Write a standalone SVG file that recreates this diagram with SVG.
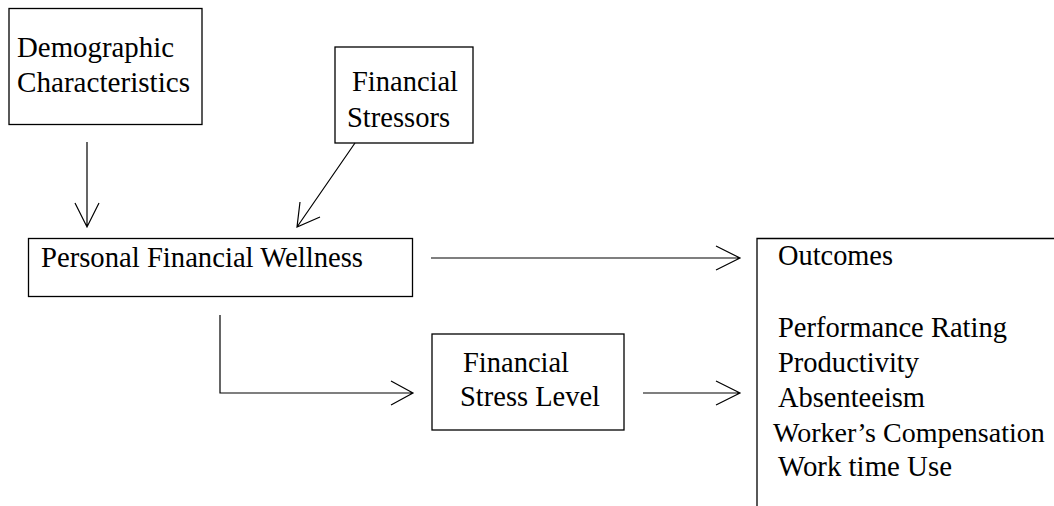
<svg xmlns="http://www.w3.org/2000/svg" width="1054" height="506" viewBox="0 0 1054 506">
<style>
.box{fill:#fff;stroke:#000;stroke-width:1.3}
.t{font-family:"Liberation Serif","Times New Roman",serif;font-size:29.5px;fill:#000}
.c{fill:none;stroke:#000;stroke-width:1.2}
</style>
<rect width="1054" height="506" fill="#fff"/>
<g id="demographic">
<rect class="box" x="9" y="8.5" width="193" height="116"/>
<text class="t" x="17" y="57" textLength="157" lengthAdjust="spacingAndGlyphs">Demographic</text>
<text class="t" x="17" y="92" textLength="173" lengthAdjust="spacingAndGlyphs">Characteristics</text>
</g>
<g id="stressors">
<rect class="box" x="335" y="47" width="138" height="96"/>
<text class="t" x="352" y="91" textLength="106" lengthAdjust="spacingAndGlyphs">Financial</text>
<text class="t" x="347" y="127" textLength="103" lengthAdjust="spacingAndGlyphs">Stressors</text>
</g>
<g id="wellness">
<rect class="box" x="28.5" y="238.5" width="384" height="58"/>
<text class="t" x="41" y="267" textLength="322" lengthAdjust="spacingAndGlyphs">Personal Financial Wellness</text>
</g>
<g id="stress-level">
<rect class="box" x="432" y="334" width="192" height="96"/>
<text class="t" x="463" y="372" textLength="106" lengthAdjust="spacingAndGlyphs">Financial</text>
<text class="t" x="460" y="406" textLength="140" lengthAdjust="spacingAndGlyphs">Stress Level</text>
</g>
<g id="outcomes">
<path class="box" fill="none" d="M1054 238.5 H757 V506"/>
<text class="t" x="778" y="265" textLength="115" lengthAdjust="spacingAndGlyphs">Outcomes</text>
<text class="t" x="778" y="337" textLength="229" lengthAdjust="spacingAndGlyphs">Performance Rating</text>
<text class="t" x="778" y="372" textLength="141" lengthAdjust="spacingAndGlyphs">Productivity</text>
<text class="t" x="778" y="407" textLength="147" lengthAdjust="spacingAndGlyphs">Absenteeism</text>
<text class="t" x="773" y="442" style="font-size:28px">Worker’s Compensation</text>
<text class="t" x="778" y="476" textLength="174" lengthAdjust="spacingAndGlyphs">Work time Use</text>
</g>
<g id="connectors">
<path class="c" d="M87 142 V227 M75 203 L87 227 L99 203"/>
<path class="c" d="M355 143 L297 227 M300 202 L297 227 L320 217"/>
<path class="c" d="M431 258 H740 M716 246 L740 258 L716 270"/>
<path class="c" d="M220 315 V393 H413 M391 381 L413 393 L391 405"/>
<path class="c" d="M643 393 H740 M716 381 L740 393 L716 405"/>
</g>
</svg>
